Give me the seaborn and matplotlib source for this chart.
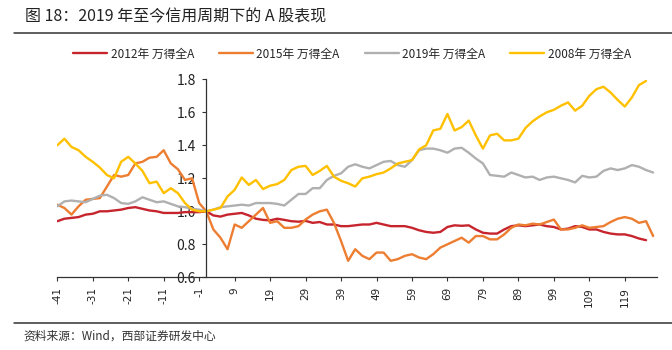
import numpy as np
import pandas as pd
import matplotlib
matplotlib.use("Agg")
import matplotlib.pyplot as plt
import seaborn as sns

# periods relative to the start of each credit cycle (every 2nd point)
periods = np.arange(-41, 128, 2)

y2012 = [0.94, 0.955, 0.96, 0.965, 0.98, 0.985, 1.00, 1.00, 1.005, 1.01, 1.02, 1.025, 1.015, 1.005, 1.00, 0.99, 0.99, 0.99, 0.995, 0.995, 0.995,
         1.00, 0.975, 0.968, 0.98, 0.985, 0.99, 0.975, 0.955, 0.948, 0.945, 0.955, 0.948, 0.94, 0.937, 0.942, 0.93, 0.935, 0.92, 0.92, 0.91, 0.91, 0.915,
         0.92, 0.92, 0.93, 0.92, 0.91, 0.91, 0.91, 0.90, 0.885, 0.875, 0.87, 0.875, 0.905, 0.915, 0.912, 0.915, 0.89, 0.87, 0.865, 0.865, 0.89,
         0.91, 0.915, 0.91, 0.915, 0.92, 0.91, 0.905, 0.89, 0.895, 0.91, 0.905, 0.89, 0.89, 0.875, 0.865, 0.86, 0.86, 0.85, 0.835, 0.825, np.nan]

y2015 = [1.04, 1.02, 0.98, 1.03, 1.07, 1.075, 1.08, 1.15, 1.22, 1.21, 1.22, 1.29, 1.30, 1.325, 1.33, 1.37, 1.29, 1.255, 1.19, 1.20, 1.05,
         1.00, 0.89, 0.84, 0.77, 0.92, 0.90, 0.94, 0.98, 1.02, 0.93, 0.94, 0.90, 0.90, 0.91, 0.95, 0.98, 1.00, 1.01, 0.93, 0.82, 0.70, 0.77,
         0.73, 0.71, 0.75, 0.75, 0.70, 0.71, 0.73, 0.74, 0.72, 0.71, 0.74, 0.78, 0.80, 0.82, 0.84, 0.81, 0.85, 0.85, 0.83, 0.83, 0.86,
         0.90, 0.92, 0.915, 0.925, 0.92, 0.935, 0.95, 0.89, 0.89, 0.90, 0.915, 0.90, 0.905, 0.91, 0.935, 0.955, 0.965, 0.955, 0.93, 0.94, 0.85]

y2019 = [1.03, 1.06, 1.065, 1.06, 1.055, 1.075, 1.095, 1.10, 1.08, 1.05, 1.045, 1.06, 1.085, 1.07, 1.055, 1.06, 1.045, 1.03, 1.025, 1.015, 1.01,
         1.00, 1.01, 1.025, 1.03, 1.035, 1.04, 1.035, 1.05, 1.05, 1.05, 1.045, 1.035, 1.07, 1.105, 1.105, 1.14, 1.14, 1.19, 1.215, 1.23, 1.27, 1.285,
         1.27, 1.26, 1.28, 1.30, 1.305, 1.28, 1.27, 1.31, 1.37, 1.38, 1.38, 1.37, 1.355, 1.38, 1.385, 1.355, 1.32, 1.29, 1.22, 1.215, 1.21,
         1.235, 1.22, 1.205, 1.21, 1.19, 1.205, 1.21, 1.20, 1.19, 1.175, 1.215, 1.205, 1.21, 1.245, 1.26, 1.25, 1.26, 1.28, 1.27, 1.25, 1.235]

y2008 = [1.40, 1.44, 1.39, 1.37, 1.33, 1.30, 1.265, 1.22, 1.20, 1.30, 1.33, 1.29, 1.245, 1.17, 1.18, 1.11, 1.14, 1.11, 1.05, 1.01, 1.00,
         1.00, 1.01, 1.02, 1.09, 1.13, 1.205, 1.16, 1.19, 1.135, 1.155, 1.165, 1.19, 1.25, 1.27, 1.275, 1.22, 1.245, 1.275, 1.21, 1.185, 1.17, 1.15,
         1.20, 1.21, 1.225, 1.235, 1.26, 1.29, 1.30, 1.31, 1.375, 1.40, 1.49, 1.50, 1.59, 1.49, 1.51, 1.55, 1.46, 1.38, 1.46, 1.47, 1.43,
         1.43, 1.44, 1.505, 1.545, 1.575, 1.60, 1.615, 1.64, 1.66, 1.61, 1.64, 1.70, 1.74, 1.755, 1.72, 1.675, 1.635, 1.69, 1.765, 1.79, np.nan]

labels = ["2012年 万得全A", "2015年 万得全A", "2019年 万得全A", "2008年 万得全A"]
colors = ["#C7252E", "#ED7D31", "#B0B0B0", "#FFC000"]

xticks = np.arange(-41, 120, 10)
yticks = [0.6, 0.8, 1.0, 1.2, 1.4, 1.6, 1.8]

sns.set_style("white")
plt.rcParams['font.family'] = ['Noto Sans CJK SC', 'DejaVu Sans']

fig = plt.figure(figsize=(6.72, 3.5), dpi=100)
ax = fig.add_axes([57.3 / 672, 1 - 277.3 / 350, (656.7 - 57.3) / 672, (277.3 - 79.3) / 350])

for vals, lab, col in zip([y2012, y2015, y2019, y2008], labels, colors):
    df = pd.DataFrame({'period': periods, 'value': vals}).dropna()
    sns.lineplot(data=df, x='period', y='value', ax=ax, color=col, lw=1.7, label=lab, legend=False)

ax.set_xlim(-41, 128)
ax.set_ylim(0.6, 1.8)
ax.set_xticks(xticks)
ax.set_xticklabels([str(t) for t in xticks], rotation=90, fontsize=7.5, family='DejaVu Sans')
ax.set_yticks(yticks)
ax.set_yticklabels([f"{t:.1f}" for t in yticks], fontsize=8, family='DejaVu Sans')
ax.set_xlabel('')
ax.set_ylabel('')

for s in ['top', 'right']:
    ax.spines[s].set_visible(False)
for s in ['left', 'bottom']:
    ax.spines[s].set_color('#333333')
    ax.spines[s].set_linewidth(0.9)
ax.spines['left'].set_position(('data', 0.8))
ax.tick_params(axis='both', direction='out', length=3, width=0.8, color='#333333',
               labelcolor='#222222', pad=4, left=True, bottom=True)
ax.grid(False)

handles, labs = ax.get_legend_handles_labels()
fig.legend(handles, labs, loc='center', bbox_to_anchor=(352 / 672, 1 - 54 / 350), ncol=4,
           frameon=False, fontsize=8.5, handlelength=2.9, handletextpad=0.3, columnspacing=2.1)

# title, rules and source
fig.text(25 / 672, 1 - 17 / 350, "图 18：2019 年至今信用周期下的 A 股表现", fontsize=11.5,
         va='center', ha='left', color='#222222')
fig.add_artist(plt.Line2D([14 / 672, 1], [1 - 32.5 / 350] * 2, color='#333333', lw=1.1))
fig.add_artist(plt.Line2D([14 / 672, 1], [1 - 322.7 / 350] * 2, color='#333333', lw=1.1))
fig.text(23 / 672, 1 - 336 / 350, "资料来源：Wind，西部证券研发中心", fontsize=8.5,
         va='center', ha='left', color='#333333')

fig.savefig("out.png", dpi=100)
